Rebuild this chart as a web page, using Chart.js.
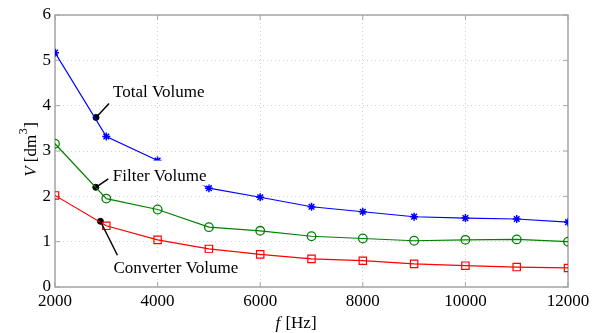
<!DOCTYPE html>
<html>
<head>
<meta charset="utf-8">
<script src="https://cdn.jsdelivr.net/npm/chart.js@4.4.1/dist/chart.umd.min.js"></script>
<style>
  body { margin: 0; background: #fff; }
  #wrap { width: 603px; height: 333px; }
</style>
</head>
<body>
<div id="wrap"><canvas id="vol"></canvas></div>
<script>
const freq = [2000, 3000, 4000, 5000, 6000, 7000, 8000, 9000, 10000, 11000, 12000];
const totalVol = [5.17, 3.32, 2.79, 2.18, 1.98, 1.77, 1.66, 1.55, 1.52, 1.50, 1.43];
const filterVol = [3.16, 1.95, 1.71, 1.32, 1.24, 1.12, 1.07, 1.02, 1.04, 1.05, 1.00];
const convVol = [2.02, 1.35, 1.04, 0.84, 0.72, 0.62, 0.58, 0.51, 0.47, 0.44, 0.42];

// annotation dots (data coords) and their labels
const noteText = ["Total Volume", "Filter Volume", "Converter Volume"];
const noteX = [2800, 2795, 2885];
const noteY = [3.74, 2.2, 1.45];

const SERIF = "'Liberation Serif', 'Times New Roman', serif";
const AXIS_GRAY = "#a6a6a6";

const pts = (ys) => freq.map((f, i) => ({ x: f, y: ys[i] }));

// leader line end + label anchor, relative to the dot (px)
const leaderOff = [[13, -14], [12.5, -8.5], [17, 34]];
const labelOff = [[17, -20.5], [17, -6.7], [13, 51.6]];

const framePlugin = {
  id: "frame",
  beforeDatasetsDraw(chart) {
    const { ctx, chartArea: a, scales } = chart;
    ctx.save();
    ctx.strokeStyle = AXIS_GRAY;
    ctx.lineWidth = 1.5;
    ctx.strokeRect(a.left, a.top, a.right - a.left, a.bottom - a.top);
    ctx.lineWidth = 1;
    ctx.beginPath();
    scales.x.ticks.forEach((t) => {
      const px = scales.x.getPixelForValue(t.value);
      ctx.moveTo(px, a.bottom); ctx.lineTo(px, a.bottom - 5);
      ctx.moveTo(px, a.top); ctx.lineTo(px, a.top + 5);
    });
    scales.y.ticks.forEach((t) => {
      const py = scales.y.getPixelForValue(t.value);
      ctx.moveTo(a.left, py); ctx.lineTo(a.left + 5, py);
      ctx.moveTo(a.right, py); ctx.lineTo(a.right - 5, py);
    });
    ctx.stroke();
    ctx.restore();
  },
  afterDatasetsDraw(chart) {
    const { ctx, scales } = chart;
    ctx.save();
    ctx.font = "17px " + SERIF;
    ctx.textBaseline = "alphabetic";
    noteText.forEach((txt, i) => {
      const dx = scales.x.getPixelForValue(noteX[i]);
      const dy = scales.y.getPixelForValue(noteY[i]);
      const lx = dx + labelOff[i][0];
      const ly = dy + labelOff[i][1];
      const w = ctx.measureText(txt).width;
      ctx.fillStyle = "#fff";
      ctx.fillRect(lx - 2, ly - 20, w + 4, 25);
      ctx.strokeStyle = "#000";
      ctx.lineWidth = 1.5;
      ctx.beginPath();
      ctx.moveTo(dx, dy);
      ctx.lineTo(dx + leaderOff[i][0], dy + leaderOff[i][1]);
      ctx.stroke();
      ctx.fillStyle = "#000";
      ctx.fillText(txt, lx, ly);
    });
    ctx.restore();
  },
  afterDraw(chart) {
    const { ctx } = chart;
    ctx.save();
    ctx.fillStyle = "#000";
    ctx.textBaseline = "alphabetic";
    // x title: f [Hz]
    const it = "italic 17px " + SERIF, rg = "17px " + SERIF;
    ctx.font = it; const wf = ctx.measureText("f").width;
    ctx.font = rg; const wh = ctx.measureText(" [Hz]").width;
    let x0 = 295.5 - (wf + wh) / 2;
    ctx.font = it; ctx.fillText("f", x0, 328);
    ctx.font = rg; ctx.fillText(" [Hz]", x0 + wf + 1, 328);
    // y title: V [dm^3]
    ctx.translate(36, 150);
    ctx.rotate(-Math.PI / 2);
    ctx.font = it; const wv = ctx.measureText("V").width;
    ctx.font = rg; const wd = ctx.measureText(" [dm").width;
    ctx.font = "12px " + SERIF; const w3 = ctx.measureText("3").width;
    ctx.font = rg; const wb = ctx.measureText("]").width;
    let s = -(wv + wd + w3 + wb) / 2;
    ctx.font = it; ctx.fillText("V", s, 0); s += wv;
    ctx.font = rg; ctx.fillText(" [dm", s, 0); s += wd;
    ctx.font = "12px " + SERIF; ctx.fillText("3", s + 0.5, -9); s += w3 + 1;
    ctx.font = rg; ctx.fillText("]", s, 0);
    ctx.restore();
  }
};

const series = (label, ys, color, style, r, bw) => ({
  label: label,
  data: pts(ys),
  showLine: true,
  borderColor: color,
  borderWidth: 1.2,
  backgroundColor: "rgba(0,0,0,0)",
  pointStyle: style,
  pointRadius: r,
  pointBorderColor: color,
  pointBorderWidth: bw,
  pointBackgroundColor: "rgba(0,0,0,0)",
});

const grid = {
  color: "#cfcfcf",
  lineWidth: 1,
  drawTicks: false,
};

new Chart(document.getElementById("vol"), {
  type: "scatter",
  data: {
    datasets: [
      series("Total Volume", totalVol, "#0000ff", "star", 4, 1.5),
      series("Filter Volume", filterVol, "#008000", "circle", 4.3, 1.3),
      series("Converter Volume", convVol, "#ff0000", "rect", 5.2, 1.2),
      {
        label: "markers",
        data: noteX.map((x, i) => ({ x: x, y: noteY[i] })),
        showLine: false,
        pointRadius: 3,
        pointBackgroundColor: "#000",
        pointBorderColor: "#000",
      },
    ],
  },
  options: {
    responsive: true,
    maintainAspectRatio: false,
    animation: false,
    layout: { padding: { top: 15, right: 35, left: 0, bottom: 0 } },
    plugins: { legend: { display: false }, tooltip: { enabled: false } },
    scales: {
      x: {
        type: "linear",
        min: 2000,
        max: 12000,
        grid: grid,
        border: { display: false, dash: [1, 3] },
        ticks: {
          stepSize: 2000, padding: 4, color: "#000",
          font: { family: SERIF, size: 17 },
          callback: (v) => String(v),
        },
        afterFit: (s) => { s.height = 46; },
      },
      y: {
        min: 0,
        max: 6,
        grid: grid,
        border: { display: false, dash: [1, 3] },
        ticks: { stepSize: 1, padding: 4, color: "#000", font: { family: SERIF, size: 17 } },
        afterFit: (s) => { s.width = 55; },
      },
    },
  },
  plugins: [framePlugin],
});
</script>
</body>
</html>
